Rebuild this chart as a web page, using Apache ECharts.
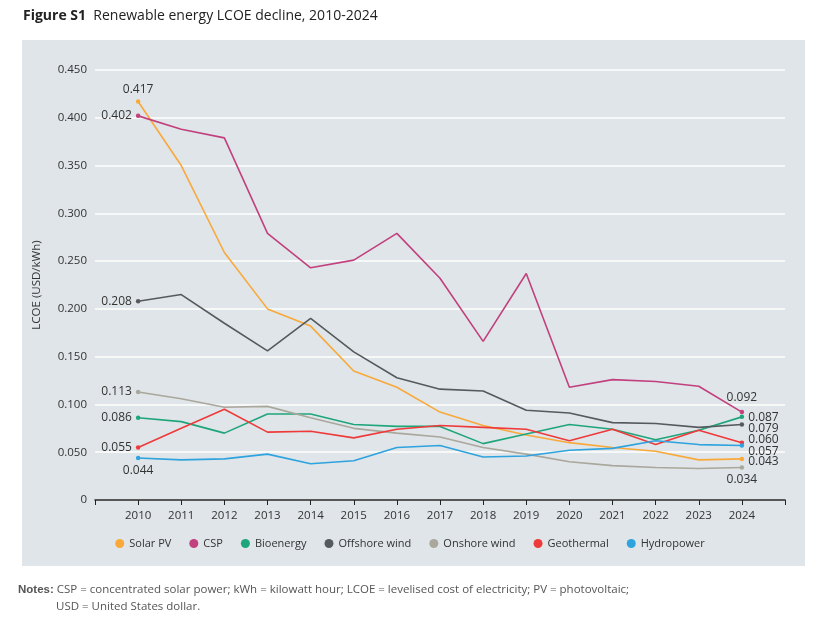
<!DOCTYPE html>
<html><head><meta charset="utf-8">
<script src="https://cdn.jsdelivr.net/npm/echarts@6/dist/echarts.min.js"></script>
<style>body{margin:0;background:#fff}#c{width:820px;height:620px}</style>
</head><body><div id="c"></div>
<script>
const years = [2010,2011,2012,2013,2014,2015,2016,2017,2018,2019,2020,2021,2022,2023,2024];
const yTicks = [0, 0.05, 0.1, 0.15, 0.2, 0.25, 0.3, 0.35, 0.4, 0.45];
const solarPV = [0.417,0.350,0.259,0.200,0.182,0.135,0.118,0.092,0.078,0.068,0.060,0.055,0.051,0.042,0.043];
const csp = [0.402,0.388,0.379,0.279,0.243,0.251,0.279,0.232,0.166,0.237,0.118,0.126,0.124,0.119,0.092];
const bioenergy = [0.086,0.082,0.070,0.090,0.090,0.079,0.077,0.077,0.059,0.069,0.079,0.074,0.063,0.073,0.087];
const offshore = [0.208,0.215,0.185,0.156,0.190,0.155,0.128,0.116,0.114,0.094,0.091,0.081,0.080,0.076,0.079];
const onshore = [0.113,0.106,0.097,0.098,0.086,0.075,0.070,0.066,0.055,0.048,0.040,0.036,0.034,0.033,0.034];
const geothermal = [0.055,0.075,0.095,0.071,0.072,0.065,0.074,0.078,0.076,0.074,0.062,0.074,0.058,0.073,0.060];
const hydro = [0.044,0.042,0.043,0.048,0.038,0.041,0.055,0.057,0.045,0.046,0.052,0.054,0.062,0.058,0.057];

// name, values, colour, first-label position, last-label position, last-label offset
const defs = [
  ['Solar PV', solarPV, '#f9a93a', 'top', 'right', [0, 3]],
  ['CSP', csp, '#c2407e', 'left', 'top', [0, -2]],
  ['Bioenergy', bioenergy, '#1fa57a', 'left', 'right', [0, 1]],
  ['Offshore wind', offshore, '#555a5e', 'left', 'right', [0, 4]],
  ['Onshore wind', onshore, '#aaa79c', 'left', 'bottom', [0, 0]],
  ['Geothermal', geothermal, '#ee3a3a', 'left', 'right', [0, -3]],
  ['Hydropower', hydro, '#2ea3de', 'bottom', 'right', [0, 6]]
];
const last = years.length - 1;
const series = defs.map(([name, vals, color, p0, p1, off]) => ({
  name, type: 'line', color,
  lineStyle: { width: 1.6 },
  symbol: 'circle',
  symbolSize: (v, p) => (p.dataIndex === 0 || p.dataIndex === last) ? 4.5 : 0,
  showAllSymbol: true,
  emphasis: { disabled: true },
  data: vals.map((v, i) => ({
    value: [years[i], v],
    label: {
      show: i === 0 || i === last,
      position: i === 0 ? p0 : p1,
      offset: i === last ? off : [0, 0],
      distance: 4,
      formatter: p => p.value[1].toFixed(3),
      color: '#333', fontSize: 12, fontFamily: 'Open Sans'
    }
  }))
}));

const chart = echarts.init(document.getElementById('c'));
chart.setOption({
  animation: false,
  textStyle: { fontFamily: 'Open Sans' },
  title: {
    left: 18, top: 4,
    text: '{b|Figure S1}  Renewable energy LCOE decline, 2010-2024',
    textStyle: { fontSize: 14, fontWeight: 'normal', color: '#222',
      rich: { b: { fontWeight: 'bold', fontSize: 14, color: '#222' } } }
  },
  graphic: [
    { type: 'rect', z: -10, shape: { x: 22, y: 40, width: 783, height: 526 }, style: { fill: '#dfe5e8' } },
    { type: 'text', left: 18, top: 584, style: { text: '{b|Notes:} CSP = concentrated solar power; kWh = kilowatt hour; LCOE = levelised cost of electricity; PV = photovoltaic;', fontSize: 11.5, fill: '#555', fontFamily: 'Open Sans', rich: { b: { fontWeight: 'bold', fontSize: 11.5, fill: '#555' } } } },
    { type: 'text', left: 56, top: 601, style: { text: 'USD = United States dollar.', fontSize: 11.5, fill: '#555', fontFamily: 'Open Sans' } }
  ],
  legend: {
    bottom: 66, itemGap: 18, icon: 'circle', itemWidth: 9, itemHeight: 9,
    textStyle: { fontSize: 11, color: '#333' },
    data: defs.map(d => d[0])
  },
  grid: { left: 95, right: 35, top: 70, bottom: 120 },
  xAxis: {
    type: 'value', min: 2009, max: 2025, interval: 1,
    splitLine: { show: false },
    axisLine: { lineStyle: { color: '#222', width: 1.5 } },
    axisTick: { lineStyle: { color: '#222' } },
    axisLabel: { color: '#333', fontSize: 11.5, margin: 10,
      formatter: v => (v >= 2010 && v <= 2024) ? String(v) : '' }
  },
  yAxis: {
    type: 'value', min: 0, max: 0.45, interval: 0.05,
    name: 'LCOE (USD/kWh)', nameLocation: 'middle', nameGap: 52,
    nameTextStyle: { color: '#333', fontSize: 11.5 },
    axisLine: { show: false }, axisTick: { show: false },
    axisLabel: { color: '#333', fontSize: 11.5, margin: 8,
      formatter: v => yTicks.includes(+v.toFixed(2)) ? (v === 0 ? '0' : v.toFixed(3)) : '' },
    splitLine: { lineStyle: { color: '#fff', width: 1.5 } }
  },
  series
});
</script></body></html>
